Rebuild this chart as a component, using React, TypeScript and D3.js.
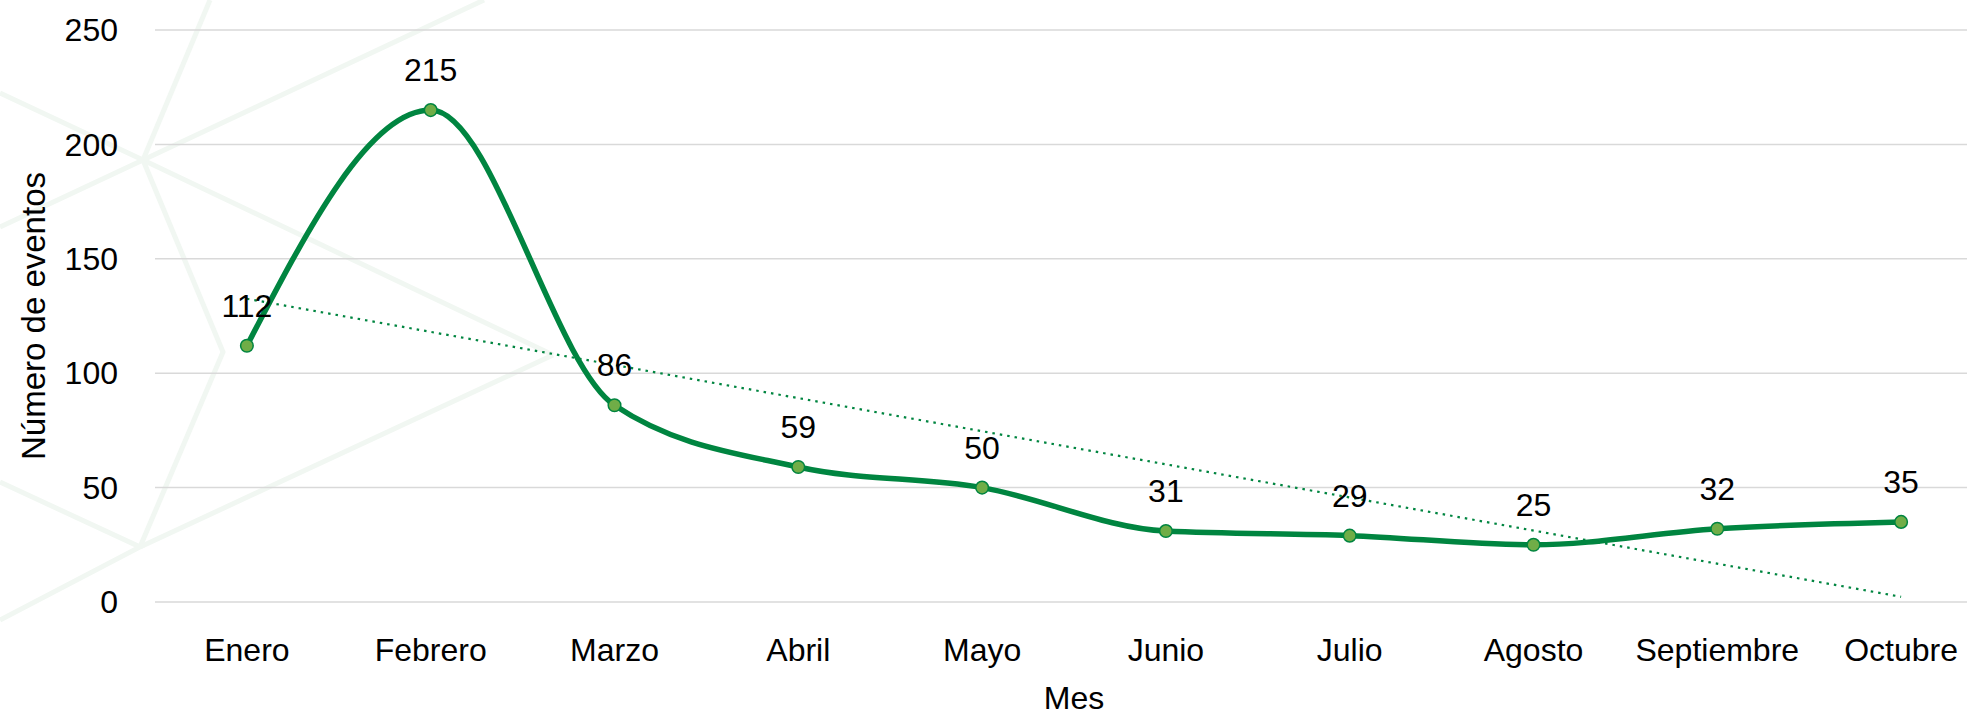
import React from "react";
import * as d3 from "d3";

const months = ["Enero", "Febrero", "Marzo", "Abril", "Mayo", "Junio", "Julio", "Agosto", "Septiembre", "Octubre"];
const eventos = [112, 215, 86, 59, 50, 31, 29, 25, 32, 35];
const yTicks = [0, 50, 100, 150, 200, 250];

// faint background watermark lines (decorative)
const watermark = [
  [[210, 0], [143, 160]],
  [[0, 93], [143, 160], [553, 355]],
  [[0, 227], [143, 160], [484, 0]],
  [[143, 160], [223, 352], [140, 547]],
  [[0, 482], [140, 547], [0, 620]],
  [[140, 547], [553, 355]],
];

const W = 1967;
const H = 717;
const font = "'Liberation Sans', Arial, sans-serif";
const green = "#008540";

export default function App() {
  const x = d3.scaleBand<string>().domain(months).range([155, 1993]).padding(0);
  const cx = (m: string) => (x(m) as number) + x.bandwidth() / 2;
  const y = d3.scaleLinear().domain([0, 250]).range([602, 30]);

  const pts = months.map((m, i) => ({ m, v: eventos[i] }));

  const line = d3
    .line<{ m: string; v: number }>()
    .x((d) => cx(d.m))
    .y((d) => y(d.v))
    .curve(d3.curveMonotoneX);

  // linear trendline (least squares)
  const n = eventos.length;
  const xs = eventos.map((_, i) => i + 1);
  const mx = d3.mean(xs) as number;
  const my = d3.mean(eventos) as number;
  const slope =
    d3.sum(xs, (xi, i) => (xi - mx) * (eventos[i] - my)) / d3.sum(xs, (xi) => (xi - mx) ** 2);
  const trendAt = (i: number) => my + slope * (i + 1 - mx);

  return (
    <svg width={W} height={H} style={{ position: "absolute", left: 0, top: 0, background: "#fff" }}>
      <g stroke="#f1f7f2" strokeWidth={5} fill="none">
        {watermark.map((p, i) => (
          <polyline key={i} points={p.map((q) => q.join(",")).join(" ")} />
        ))}
      </g>

      {yTicks.map((t) => (
        <g key={t}>
          <line x1={155} x2={1993} y1={y(t)} y2={y(t)} stroke="#d9d9d9" strokeWidth={1.5} />
          <text x={118} y={y(t)} dy="0.35em" textAnchor="end" fontFamily={font} fontSize={32} fill="#000">
            {t}
          </text>
        </g>
      ))}

      {months.map((m) => (
        <text key={m} x={cx(m)} y={661} textAnchor="middle" fontFamily={font} fontSize={32} fill="#000">
          {m}
        </text>
      ))}

      <line
        x1={cx(months[0])}
        y1={y(trendAt(0))}
        x2={cx(months[n - 1])}
        y2={y(trendAt(n - 1))}
        stroke={green}
        strokeWidth={2.2}
        strokeDasharray="2.5 5"
      />

      <path d={line(pts) ?? ""} fill="none" stroke={green} strokeWidth={5.5} strokeLinejoin="round" />

      {pts.map((d) => (
        <circle key={d.m} cx={cx(d.m)} cy={y(d.v)} r={6.3} fill="#70ad47" stroke={green} strokeWidth={1.5} />
      ))}

      {pts.map((d) => (
        <text key={d.m} x={cx(d.m)} y={y(d.v) - 29} textAnchor="middle" fontFamily={font} fontSize={32} fill="#000">
          {d.v}
        </text>
      ))}

      <text x={1074} y={709} textAnchor="middle" fontFamily={font} fontSize={32} fill="#000">
        Mes
      </text>
      <text
        transform="translate(45,316) rotate(-90)"
        textAnchor="middle"
        fontFamily={font}
        fontSize={33}
        fill="#000"
      >
        Número de eventos
      </text>
    </svg>
  );
}
